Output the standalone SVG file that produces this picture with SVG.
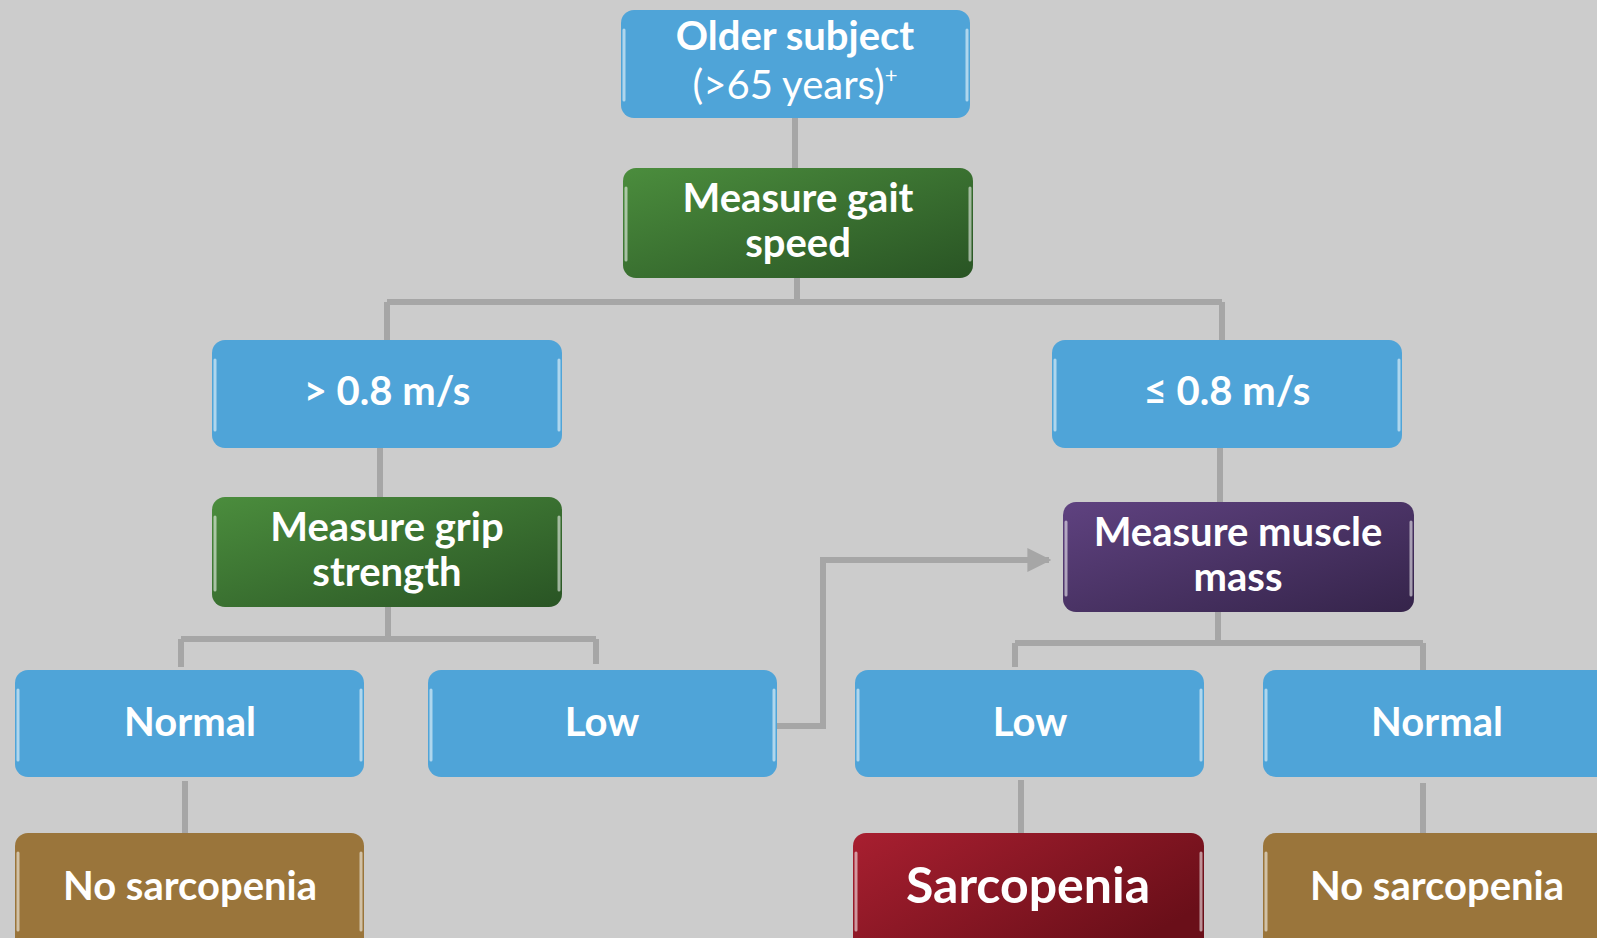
<svg xmlns="http://www.w3.org/2000/svg" width="1597" height="938" viewBox="0 0 1597 938">
<defs>
<linearGradient id="gGreen" x1="0" y1="0" x2="1" y2="1"><stop offset="0" stop-color="#4b8d3d"/><stop offset="1" stop-color="#295424"/></linearGradient>
<linearGradient id="gPurple" x1="0" y1="0" x2="1" y2="1"><stop offset="0" stop-color="#5f4280"/><stop offset="1" stop-color="#35244a"/></linearGradient>
<linearGradient id="gRed" x1="0" y1="0" x2="1" y2="0.6"><stop offset="0" stop-color="#a81f30"/><stop offset="1" stop-color="#6a0f19"/></linearGradient>
<marker id="arr" viewBox="0 0 10 10" refX="9" refY="5" markerWidth="4" markerHeight="4" orient="auto" markerUnits="strokeWidth"><path d="M0,0 L10,5 L0,10 z" fill="#a6a6a6"/></marker>
</defs>
<style>
.box{stroke:none}
.blue{fill:#4fa4d8}
.brown{fill:#9a753b}
.hl{fill:none;stroke:#ffffff;stroke-opacity:0.55;stroke-width:3;stroke-linecap:round}
.t{font-family:Lato,"Open Sans","Liberation Sans",sans-serif;font-weight:bold;fill:#ffffff;text-anchor:middle;font-size:40px}
.big{font-size:50px}
.r{font-weight:normal}
.c{fill:none;stroke:#a6a6a6;stroke-width:6}
</style>
<rect width="1597" height="938" fill="#cccccc"/>

<g id="connectors">
<path class="c" d="M795,118 V168"/>
<path class="c" d="M797,278 V302 M387,302 H1222 M387,302 V340 M1222,302 V340"/>
<path class="c" d="M380,448 V497"/>
<path class="c" d="M1220,448 V502"/>
<path class="c" d="M388,607 V639 M181,639 H596 M181,639 V667 M596,639 V664"/>
<path class="c" d="M1218,612 V643 M1015,643 H1423 M1015,643 V667 M1423,643 V670"/>
<path class="c" d="M777,726 H823 V560 H1049" marker-end="url(#arr)"/>
<path class="c" d="M185,781 V833"/>
<path class="c" d="M1021,780 V833"/>
<path class="c" d="M1423,783 V833"/>
</g>

<g id="older">
<rect class="box blue" x="621" y="10" width="349" height="108" rx="13"/>
<path class="hl" d="M624,30 V100 M967,30 V100"/>
<text class="t" x="795" y="50">Older subject<tspan class="r" x="795" dy="49">(&gt;65 years)</tspan><tspan class="r" font-size="22" dy="-16">+</tspan></text>
</g>

<g id="gait">
<rect class="box" fill="url(#gGreen)" x="623" y="168" width="350" height="110" rx="13"/>
<path class="hl" d="M626,188 V260 M970,188 V260" stroke-opacity="0.3"/>
<text class="t" x="798" y="212">Measure gait<tspan x="798" dy="45">speed</tspan></text>
</g>

<g id="fast">
<rect class="box blue" x="212" y="340" width="350" height="108" rx="13"/>
<path class="hl" d="M215,360 V430 M559,360 V430"/>
<text class="t" x="387" y="405">&gt; 0.8 m/s</text>
</g>

<g id="slow">
<rect class="box blue" x="1052" y="340" width="350" height="108" rx="13"/>
<path class="hl" d="M1055,360 V430 M1399,360 V430"/>
<text class="t" x="1227" y="405">≤ 0.8 m/s</text>
</g>

<g id="grip">
<rect class="box" fill="url(#gGreen)" x="212" y="497" width="350" height="110" rx="13"/>
<path class="hl" d="M215,517 V590 M559,517 V590" stroke-opacity="0.3"/>
<text class="t" x="387" y="541">Measure grip<tspan x="387" dy="45">strength</tspan></text>
</g>

<g id="muscle">
<rect class="box" fill="url(#gPurple)" x="1063" y="502" width="351" height="110" rx="13"/>
<path class="hl" d="M1066,522 V595 M1411,522 V595" stroke-opacity="0.3"/>
<text class="t" x="1238" y="546">Measure muscle<tspan x="1238" dy="45">mass</tspan></text>
</g>

<g id="gripNormal">
<rect class="box blue" x="15" y="670" width="349" height="107" rx="13"/>
<path class="hl" d="M18,690 V760 M361,690 V760"/>
<text class="t" x="190" y="736">Normal</text>
</g>

<g id="gripLow">
<rect class="box blue" x="428" y="670" width="349" height="107" rx="13"/>
<path class="hl" d="M431,690 V760 M774,690 V760"/>
<text class="t" x="602" y="736">Low</text>
</g>

<g id="massLow">
<rect class="box blue" x="855" y="670" width="349" height="107" rx="13"/>
<path class="hl" d="M858,690 V760 M1201,690 V760"/>
<text class="t" x="1030" y="736">Low</text>
</g>

<g id="massNormal">
<rect class="box blue" x="1263" y="670" width="349" height="107" rx="13"/>
<path class="hl" d="M1266,690 V760"/>
<text class="t" x="1437" y="736">Normal</text>
</g>

<g id="noSarc1">
<rect class="box brown" x="15" y="833" width="349" height="120" rx="13"/>
<path class="hl" d="M18,853 V930 M361,853 V930"/>
<text class="t" x="190" y="900">No sarcopenia</text>
</g>

<g id="sarc">
<rect class="box" fill="url(#gRed)" x="853" y="833" width="351" height="120" rx="13"/>
<path class="hl" d="M856,853 V930 M1201,853 V930" stroke-opacity="0.3"/>
<text class="t big" x="1028" y="903">Sarcopenia</text>
</g>

<g id="noSarc2">
<rect class="box brown" x="1263" y="833" width="349" height="120" rx="13"/>
<path class="hl" d="M1266,853 V930"/>
<text class="t" x="1437" y="900">No sarcopenia</text>
</g>
</svg>
